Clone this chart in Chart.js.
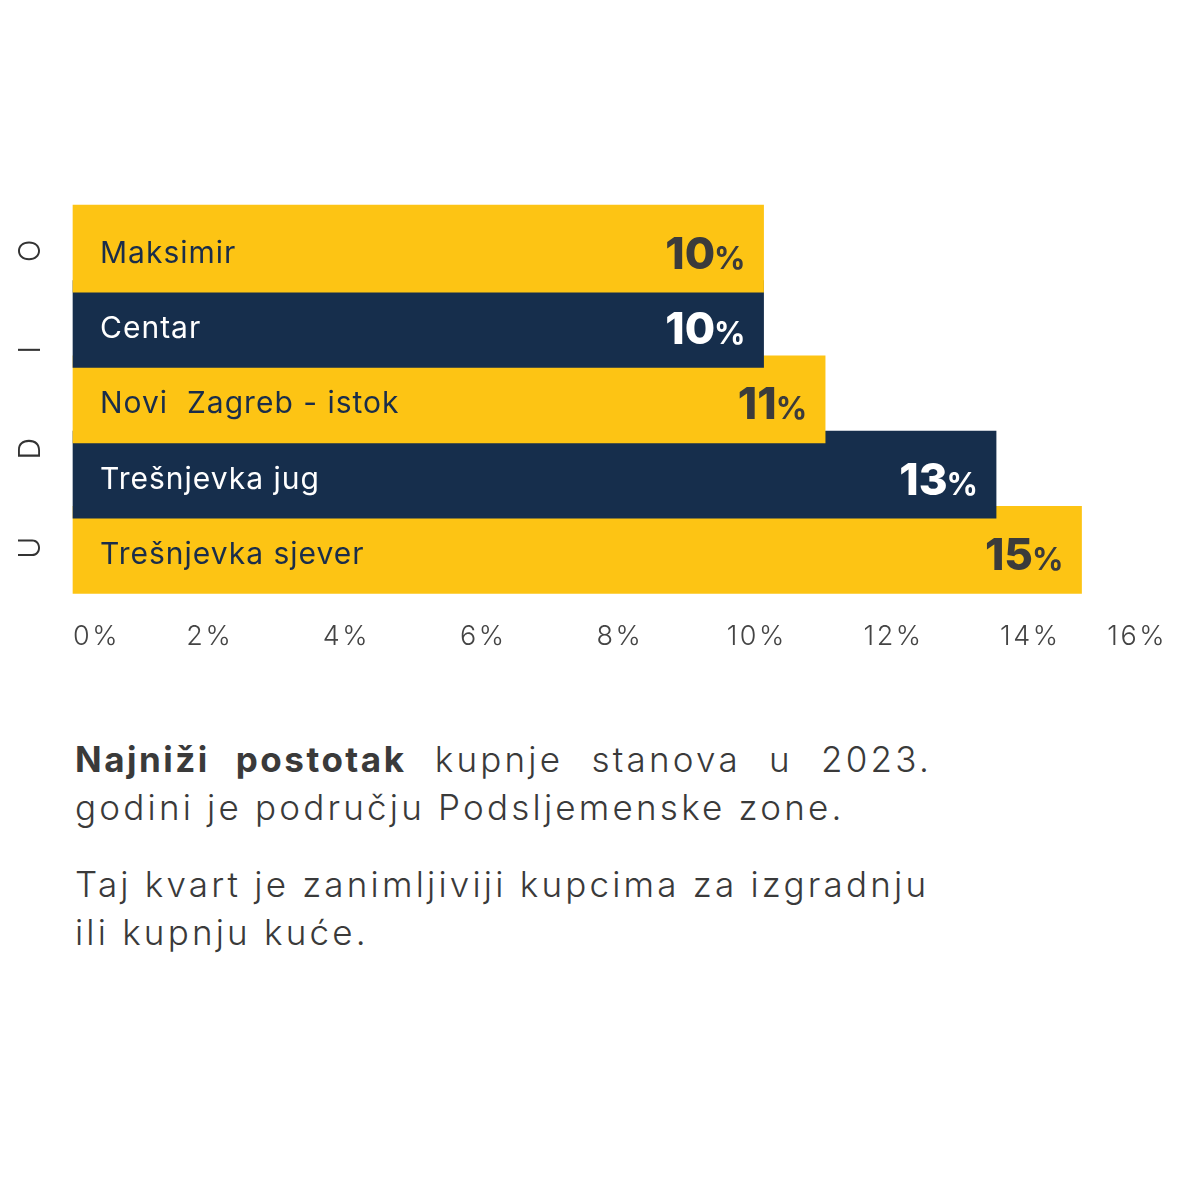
<!DOCTYPE html>
<html>
<head>
<meta charset="utf-8">
<title>Udio kupnje stanova</title>
<script src="https://cdn.jsdelivr.net/npm/chart.js"></script>
<style>
  body { margin: 0; background: #fff; }
  #wrap { position: relative; width: 1200px; height: 1200px; }
  #box { position: absolute; left: 0; top: 0; width: 1200px; height: 714px; }
  .note {
    position: absolute; left: 75px; width: 857px;
    font-family: Inter, "Open Sans", sans-serif; font-size: 35px; font-weight: 300;
    letter-spacing: 3.2px; line-height: 48px; color: #3a3a3a; white-space: nowrap;
  }
  .note b { font-weight: 700; letter-spacing: 2.5px; }
  .just { text-align: justify; text-align-last: justify; }
</style>
</head>
<body>
<div id="wrap">
  <div id="box"><canvas id="shareChart"></canvas></div>
  <div class="note" style="top:735px">
    <div class="just"><b>Najniži postotak</b> kupnje stanova u 2023.</div>
    <div>godini je području Podsljemenske zone.</div>
  </div>
  <div class="note" style="top:860px">
    <div>Taj kvart je zanimljiviji kupcima za izgradnju</div>
    <div>ili kupnju kuće.</div>
  </div>
</div>
<script>
  // top to bottom, as in the picture
  const categories = ['Maksimir', 'Centar', 'Novi  Zagreb - istok', 'Trešnjevka jug', 'Trešnjevka sjever'];
  const shares = [10.1, 10.1, 11.0, 13.5, 14.75];
  const shareLabels = ['10', '10', '11', '13', '15'];
  const xTicks = [0, 2, 4, 6, 8, 10, 12, 14, 16];

  const YELLOW = '#FDC414';
  const NAVY = '#162E4C';
  const FONT = 'Inter, "Open Sans", sans-serif';

  // the upper bar overlaps the one below, so feed the bars bottom-up
  // and flip the axis back (later bars get painted on top)
  const labelsUp = categories.slice().reverse();
  const sharesUp = shares.slice().reverse();
  const textUp = shareLabels.slice().reverse();
  const isNavy = i => i % 2 === 1;

  const barText = {
    id: 'barText',
    beforeDraw(chart) {
      // a bit of tracking for the axis labels (closer to the original typeface)
      chart.ctx.letterSpacing = '2.5px';
    },
    afterDatasetsDraw(chart) {
      const ctx = chart.ctx;
      const left = chart.chartArea.left;
      chart.getDatasetMeta(0).data.forEach((bar, i) => {
        const navy = isNavy(i);
        ctx.save();
        // district name
        ctx.letterSpacing = '1px';
        ctx.font = '400 30px ' + FONT;
        ctx.fillStyle = navy ? '#ffffff' : '#1a2d4a';
        ctx.textAlign = 'left';
        ctx.textBaseline = 'alphabetic';
        ctx.fillText(labelsUp[i], left + 27, bar.y + 14);
        // value, big number + small %
        ctx.letterSpacing = '0px';
        ctx.fillStyle = navy ? '#ffffff' : '#3b3b3b';
        ctx.textAlign = 'right';
        ctx.font = '700 31px ' + FONT;
        const pctW = ctx.measureText('%').width;
        ctx.fillText('%', bar.x - 18, bar.y + 20);
        ctx.font = '800 44px ' + FONT;
        ctx.fillText(textUp[i], bar.x - 17 - pctW, bar.y + 20);
        ctx.restore();
      });
    }
  };

  const axisTitle = {
    id: 'axisTitle',
    afterDraw(chart) {
      const ctx = chart.ctx;
      const a = chart.chartArea;
      const cy = (a.top + a.bottom) / 2;
      const letters = ['U', 'D', 'I', 'O'];
      ctx.save();
      ctx.letterSpacing = '0px';
      ctx.translate(31, cy);
      ctx.rotate(-Math.PI / 2);
      ctx.font = '300 30px ' + FONT;
      ctx.fillStyle = '#333333';
      ctx.textAlign = 'center';
      ctx.textBaseline = 'middle';
      letters.forEach((l, k) => ctx.fillText(l, (k - 1.5) * 99, 0));
      ctx.restore();
    }
  };

  new Chart(document.getElementById('shareChart'), {
    type: 'bar',
    data: {
      labels: labelsUp,
      datasets: [{
        data: sharesUp,
        backgroundColor: c => isNavy(c.dataIndex) ? NAVY : YELLOW,
        borderWidth: 0,
        barThickness: 87,
        clip: false
      }]
    },
    options: {
      indexAxis: 'y',
      responsive: true,
      maintainAspectRatio: false,
      animation: false,
      layout: { padding: { left: 73, right: 30, top: 211, bottom: 28 } },
      plugins: {
        legend: { display: false },
        tooltip: { enabled: false }
      },
      scales: {
        y: {
          reverse: true,
          display: false
        },
        x: {
          min: 0,
          max: 16,
          afterBuildTicks: s => { s.ticks = xTicks.map(v => ({ value: v })); },
          grid: { display: false, drawTicks: false },
          border: { display: false },
          ticks: {
            align: 'inner',
            padding: 33,
            color: '#444444',
            font: { family: FONT, size: 27, weight: '300' },
            callback: v => v + '%'
          }
        }
      }
    },
    plugins: [barText, axisTitle]
  });
</script>
</body>
</html>
